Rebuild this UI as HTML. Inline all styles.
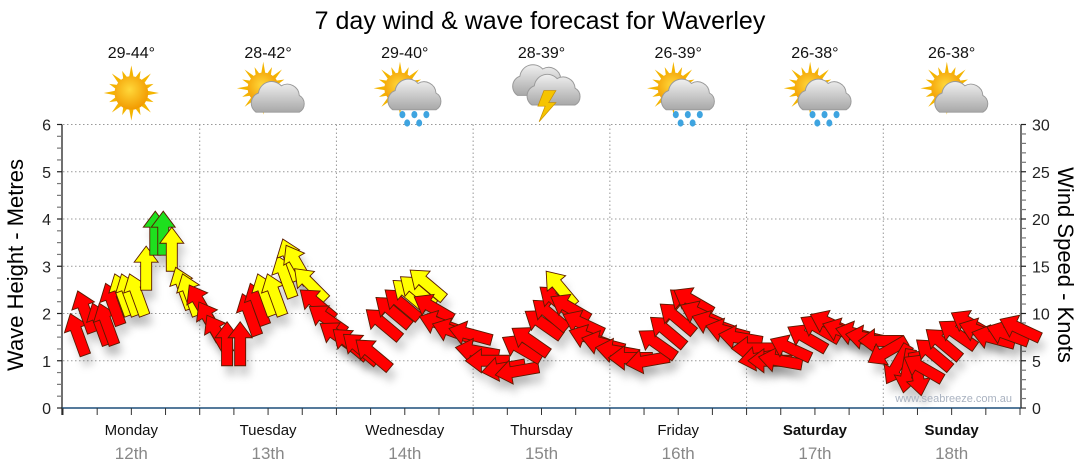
<!DOCTYPE html>
<html><head><meta charset="utf-8">
<style>
html,body{margin:0;padding:0;background:#fff;}
body{width:1080px;height:475px;overflow:hidden;font-family:"Liberation Sans",Arial,sans-serif;}
svg{display:block}
</style></head>
<body>
<svg id="chart" width="1080" height="475" viewBox="0 0 1080 475" xmlns="http://www.w3.org/2000/svg">
<defs>
<filter id="sh" x="-50%" y="-50%" width="200%" height="200%"><feGaussianBlur stdDeviation="4"/></filter>
<radialGradient id="sunG" cx="45%" cy="40%" r="60%"><stop offset="0" stop-color="#ffd83a"/><stop offset="1" stop-color="#f29a00"/></radialGradient>
<linearGradient id="cloudG" x1="0" y1="0" x2="0" y2="1"><stop offset="0" stop-color="#f0f0f0"/><stop offset="1" stop-color="#a8a8a8"/></linearGradient>
</defs>
<text x="540" y="29" text-anchor="middle" font-size="25" fill="#000">7 day wind &amp; wave forecast for Waverley</text>
<g id="grid"></g>
<g id="icons"></g>
<g id="axes"></g>
<g id="shadows"></g>
<g id="arrows"></g>
<text transform="translate(23,265) rotate(-90)" text-anchor="middle" font-size="22" fill="#000">Wave Height - Metres</text>
<text transform="translate(1058,265) rotate(90)" text-anchor="middle" font-size="22" fill="#000">Wind Speed - Knots</text>
<text x="1012" y="402" text-anchor="end" font-size="11" fill="#a9b2c0">www.seabreeze.com.au</text>
</svg>
<script>
const days = ["Monday","Tuesday","Wednesday","Thursday","Friday","Saturday","Sunday"];
const dates = ["12th","13th","14th","15th","16th","17th","18th"];
const temps = ["29-44°","28-42°","29-40°","28-39°","26-39°","26-38°","26-38°"];
const weather = ["sun","suncloud","sunrain","storm","sunrain","sunrain","suncloud"];
const waveTicks = [0,1,2,3,4,5,6];
const windTicks = [0,5,10,15,20,25,30];
const hours = [2.6,3.9,6.5,7.7,8.8,10.4,11.6,13.0,14.6,16.2,17.6,19.1,21.1,22.3,24.1,25.8,27.2,28.8,31.1,32.8,34.2,35.5,37.2,39.0,39.9,41.1,43.4,44.6,46.4,48.3,50.4,52.2,54.4,56.2,57.9,59.5,60.9,62.2,63.9,65.0,66.2,68.5,71.5,72.7,74.5,77.3,79.7,80.5,82.0,84.3,85.5,86.7,87.3,89.0,91.3,92.5,94.8,97.3,99.6,102.6,104.3,106.1,107.8,109.6,110.6,111.9,114.1,116.6,118.9,121.2,122.4,124.1,125.9,127.7,130.6,132.9,134.7,137.0,139.4,141.2,143.5,144.7,146.5,148.2,150.0,151.0,152.8,154.5,157.0,159.3,161.0,163.3,165.8,168.0];
const windSpeed = [7.8,10.2,8.9,8.9,11.0,12.0,12.0,12.0,14.8,18.5,18.5,16.8,12.7,12.0,11.0,9.2,7.8,6.8,6.8,9.9,11.0,12.0,12.0,13.9,15.7,15.2,13.1,11.0,9.4,7.6,6.8,6.3,5.7,8.9,10.2,11.0,12.0,12.4,13.1,10.6,8.9,8.1,7.8,6.0,5.0,4.2,3.9,6.3,7.1,8.9,9.9,11.3,12.7,10.6,8.9,7.4,6.8,6.0,5.3,5.0,6.8,8.1,9.5,11.0,11.3,9.9,8.9,8.1,7.4,6.3,5.3,5.0,5.0,6.3,7.4,8.4,8.9,8.1,7.8,7.4,7.1,6.0,4.6,3.9,3.6,4.2,5.7,6.8,7.8,8.9,8.1,7.4,7.8,8.4];
const windDir = [-20,-20,-20,-20,-20,-20,-20,-20,0,0,0,0,-20,-20,-30,-30,-30,0,0,-20,-20,-20,-20,-20,-20,-30,-45,-50,-55,-55,-50,-50,-50,-50,-50,-50,-50,-50,-50,-60,-70,-70,-75,-80,-90,-100,-100,-60,-55,-55,-50,-50,-40,-60,-65,-70,-75,-80,-90,-100,-55,-50,-50,-50,-60,-65,-70,-75,-80,-90,-100,-90,-80,-65,-60,-60,-65,-70,-75,-80,-90,-120,-150,-170,170,-60,-50,-50,-55,-60,-70,-75,-70,-65];

const NS="http://www.w3.org/2000/svg";
const X0=63, X1=1020, YT=124.5, YB=408;
const xH = h => X0 + (X1-X0)*h/168;
const yWave = m => YB - (YB-YT)*m/6;
const yWind = k => YB - (YB-YT)*k/30;
function mk(tag, attrs, parent){const e=document.createElementNS(NS,tag);for(const k in attrs)e.setAttribute(k,attrs[k]);parent.appendChild(e);return e;}

const grid=document.getElementById('grid'), axes=document.getElementById('axes'), icons=document.getElementById('icons');
waveTicks.forEach(t=>{ if(t===0) return;
  const l=mk('line',{x1:X0,x2:X1,y1:yWave(t),y2:yWave(t),stroke:'#999','stroke-dasharray':'1.5,2.5','stroke-width':1},grid);
  
  
});
for(let d=1; d<days.length; d++){
  const x=xH(d*24);
  const l=mk('line',{x1:x,x2:x,y1:YT,y2:YB,stroke:'#999','stroke-dasharray':'1.5,2.5','stroke-width':1},grid);
  
  
}
mk('line',{x1:X0-1,x2:X0-1,y1:YT,y2:YB+7,stroke:'#222','stroke-width':1.3},axes);
for(let i=0;i<=24;i++){const y=yWave(i/4);mk('line',{x1:X0-6,x2:X0-1,y1:y,y2:y,stroke:i%4===0?'#222':'#777','stroke-width':1.2},axes);}
waveTicks.forEach(t=>{
  const tx=mk('text',{x:X0-12,y:yWave(t)+6,'text-anchor':'end','font-size':16,fill:'#222'},axes);
  tx.textContent=t;
  
  
});
mk('line',{x1:X1+1,x2:X1+1,y1:YT,y2:YB,stroke:'#222','stroke-width':1.3},axes);
for(let i=0;i<=30;i++){const y=yWind(i);mk('line',{x1:X1+1,x2:X1+6,y1:y,y2:y,stroke:i%5===0?'#222':'#777','stroke-width':1.2},axes);}
windTicks.forEach(t=>{
  const tx=mk('text',{x:X1+12,y:yWind(t)+6,'text-anchor':'start','font-size':16,fill:'#222'},axes);
  tx.textContent=t;
  
  
});
mk('line',{x1:X0-1,x2:X1+1,y1:YB,y2:YB,stroke:'#1d4f7a','stroke-width':1.5},axes);
for(let h=0;h<=168;h+=6){const x=xH(h);mk('line',{x1:x,x2:x,y1:YB,y2:YB+7,stroke:'#333','stroke-width':1},axes);}
days.forEach((d,i)=>{
  const cx=xH(i*24+12);
  const t=mk('text',{x:cx,y:435,'text-anchor':'middle','font-size':15,fill:'#111','font-weight':(i>=5?'bold':'normal')},axes);
  t.textContent=d;
  
  
  const t2=mk('text',{x:cx,y:459,'text-anchor':'middle','font-size':17,fill:'#888'},axes);
  t2.textContent=dates[i];
  
  
  const t3=mk('text',{x:cx,y:58,'text-anchor':'middle','font-size':16,fill:'#111'},icons);
  t3.textContent=temps[i];
  
  
  const g=mk('g',{transform:`translate(${cx},${93}) scale(1.2)`},icons);
  
  
  drawIcon(g, weather[i]);
});
function sun(g,cx,cy,r){
  for(let a=0;a<360;a+=22.5){const rad=a*Math.PI/180;const L=(a%45===0)?r+9:r+6;
    const p1=[cx+Math.cos(rad)*L,cy+Math.sin(rad)*L],p2=[cx+Math.cos(rad+0.15)*(r-1),cy+Math.sin(rad+0.15)*(r-1)],p3=[cx+Math.cos(rad-0.15)*(r-1),cy+Math.sin(rad-0.15)*(r-1)];
    mk('polygon',{points:`${p1} ${p2} ${p3}`,fill:'#f4b400'},g);}
  mk('circle',{cx,cy,r,fill:'url(#sunG)'},g);
}
function cloud(g,cx,cy,s){
  mk('path',{d:`M${cx-18*s},${cy+10*s} a9 9 0 0 1 2,-16 a11 11 0 0 1 19,-6 a10 10 0 0 1 15,8 a8 8 0 0 1 0,14 z`,fill:'url(#cloudG)',stroke:'#999','stroke-width':0.8},g);
}
function drawIcon(g,type){
  if(type==='sun'){sun(g,0,0,14);}
  else if(type==='suncloud'){sun(g,-4,-4,13);cloud(g,8,6,1);}
  else if(type==='sunrain'){sun(g,-4,-4,13);cloud(g,8,4,1);
    [[-2,18],[8,18],[18,18],[2,25],[12,25]].forEach(p=>mk('ellipse',{cx:p[0],cy:p[1],rx:2.5,ry:3,fill:'#3ea4e0'},g));}
  else if(type==='storm'){cloud(g,-2,-8,1);cloud(g,10,0,1);
    mk('polygon',{points:'2,-2 12,-2 6,8 12,8 -2,24 3,11 -3,11',fill:'#f6c400',stroke:'#c99000','stroke-width':0.6},g);}
}
const arrows=document.getElementById('arrows'), shadows=document.getElementById('shadows');
const shape='M0,-22 L12,-6 L5.5,-6 L5.5,22 L-5.5,22 L-5.5,-6 L-12,-6 Z';
hours.forEach((h,i)=>{
  const x=xH(h), y=yWind(windSpeed[i]), s=windSpeed[i];
  const col = s>=18 ? '#1ee01e' : (s>=12 ? '#ffff00' : '#ff0000');
  const sh=mk('path',{d:shape,transform:`translate(${x+4},${y+10}) rotate(${windDir[i]})`,fill:'#000','fill-opacity':0.18,filter:'url(#sh)'},shadows);
  
  
  const a=mk('path',{d:shape,transform:`translate(${x},${y}) rotate(${windDir[i]})`,fill:col,stroke:'#5a1a00','stroke-width':0.9,'stroke-linejoin':'miter'},arrows);
  
  
});
</script>
</body></html>
